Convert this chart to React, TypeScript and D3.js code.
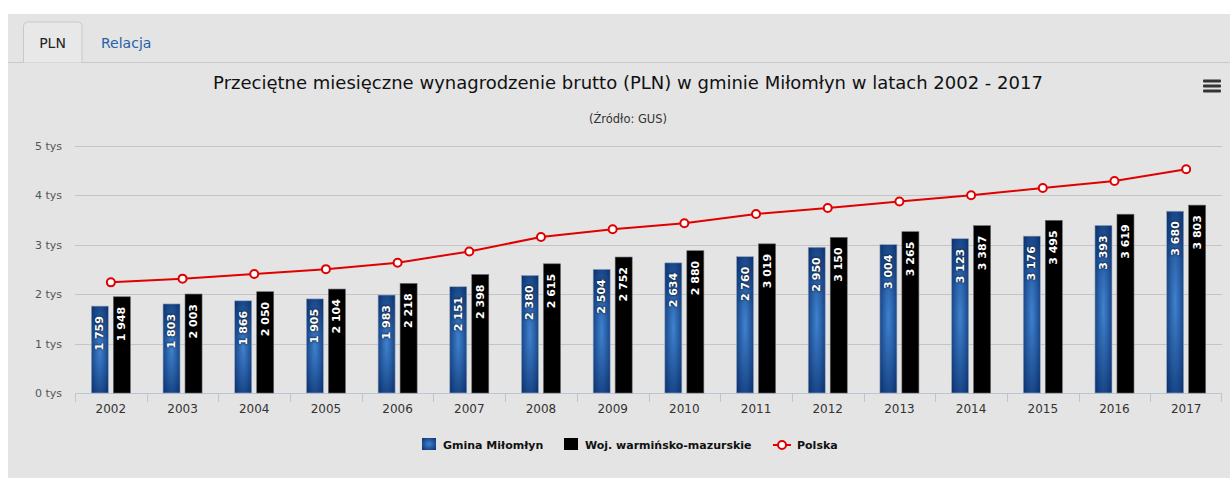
import React from "react";
import * as d3 from "d3";

const years = ["2002","2003","2004","2005","2006","2007","2008","2009","2010","2011","2012","2013","2014","2015","2016","2017"];
const gmina = [1759,1803,1866,1905,1983,2151,2380,2504,2634,2760,2950,3004,3123,3176,3393,3680];
const woj = [1948,2003,2050,2104,2218,2398,2615,2752,2880,3019,3150,3265,3387,3495,3619,3803];
const polska = [2240,2315,2410,2507,2637,2866,3158,3315,3435,3625,3744,3877,4004,4151,4291,4528];
const yTicks = [0,1000,2000,3000,4000,5000];
const seriesNames = ["Gmina Miłomłyn","Woj. warmińsko-mazurskie","Polska"];
const title = "Przeciętne miesięczne wynagrodzenie brutto (PLN) w gminie Miłomłyn w latach 2002 - 2017";
const subtitle = "(Źródło: GUS)";

const W = 1230, H = 478;
const FONT = "'DejaVu Sans', Verdana, sans-serif";

export default function App() {
  const x = d3.scaleBand().domain(years).range([75, 1222]);
  const y = d3.scaleLinear().domain([0, 5000]).range([393, 146]);
  const fmt = d3.formatLocale({ thousands: "\u00a0", grouping: [3], decimal: ",", currency: ["", ""] }).format(",d");
  const cx = (yr: string) => (x(yr) as number) + x.bandwidth() / 2;
  const line = d3.line<number>().x((_, i) => cx(years[i])).y((d) => y(d));
  const bw = 17;

  const label = (xc: number, top: number, v: number, key: string) => (
    <text key={key} transform={`translate(${xc},${top + 10}) rotate(-90)`} textAnchor="end" dominantBaseline="central"
      fontFamily={FONT} fontSize={11} fontWeight="bold" fill="#fff" style={{ textShadow: "0 0 3px #000" }}>
      {fmt(v)}
    </text>
  );

  return (
    <div style={{ position: "absolute", left: 0, top: 0, width: W, height: H }}>
      <svg width={W} height={H} style={{ display: "block" }}>
        <defs>
          <radialGradient id="blueGrad" cx="0.5" cy="0.5" r="0.7">
            <stop offset="0" stopColor="#3f82cf" />
            <stop offset="1" stopColor="#0a2f6c" />
          </radialGradient>
        </defs>
        <rect x={0} y={0} width={W} height={H} fill="#fff" />
        <rect x={8} y={14} width={W - 8} height={H - 14} fill="#e4e4e4" />
        {/* tabs */}
        <line x1={8} x2={W} y1={62.5} y2={62.5} stroke="#c9c9c9" />
        <path d="M23.5,62.5 V26 a4,4 0 0 1 4,-4 H78 a4,4 0 0 1 4,4 V62.5" fill="#e8e8e8" stroke="#c9c9c9" />
        <text x={52.5} y={48} textAnchor="middle" fontFamily={FONT} fontSize={14} fill="#222">PLN</text>
        <text x={101} y={48} fontFamily={FONT} fontSize={14} fill="#2461a8">Relacja</text>
        {/* title */}
        <text x={628} y={89} textAnchor="middle" fontFamily={FONT} fontSize={18} fill="#111">{title}</text>
        <text x={628} y={123} textAnchor="middle" fontFamily={FONT} fontSize={11.5} fill="#333">{subtitle}</text>
        {/* menu */}
        {[81, 86, 91].map((yy) => (
          <rect key={yy} x={1203} y={yy - 1.5} width={18} height={3} rx={1} fill="#333" />
        ))}
        {/* grid */}
        {yTicks.map((t) => (
          <g key={t}>
            {t > 0 && <line x1={75} x2={1222} y1={Math.round(y(t)) + 0.5} y2={Math.round(y(t)) + 0.5} stroke="#c4c4c4" />}
            <text x={62} y={y(t) + 4} textAnchor="end" fontFamily={FONT} fontSize={11} fill="#555">{`${t / 1000} tys`}</text>
          </g>
        ))}
        {/* x axis */}
        <line x1={75} x2={1222} y1={393.5} y2={393.5} stroke="#b9c6d6" />
        {years.map((yr) => (
          <line key={yr} x1={Math.round(x(yr) as number) + 0.5} x2={Math.round(x(yr) as number) + 0.5} y1={393} y2={402} stroke="#b9c6d6" />
        ))}
        <line x1={1221.5} x2={1221.5} y1={393} y2={402} stroke="#b9c6d6" />
        {years.map((yr) => (
          <text key={yr} x={cx(yr)} y={413} textAnchor="middle" fontFamily={FONT} fontSize={12} fill="#333">{yr}</text>
        ))}
        {/* bars */}
        {years.map((yr, i) => (
          <g key={yr}>
            <rect x={cx(yr) - 19.5} y={y(gmina[i])} width={bw} height={393 - y(gmina[i])} fill="url(#blueGrad)" stroke="#9aa8bb" strokeWidth={0.6} />
            <rect x={cx(yr) + 2.5} y={y(woj[i])} width={bw} height={393 - y(woj[i])} fill="#000" stroke="#666" strokeWidth={0.6} />
          </g>
        ))}
        {years.map((yr, i) => label(cx(yr) - 11, y(gmina[i]), gmina[i], "g" + yr))}
        {years.map((yr, i) => label(cx(yr) + 11, y(woj[i]), woj[i], "w" + yr))}
        {/* line */}
        <path d={line(polska) || ""} fill="none" stroke="#e00000" strokeWidth={2} />
        {polska.map((v, i) => (
          <circle key={i} cx={cx(years[i])} cy={y(v)} r={4} fill="#fff" stroke="#e00000" strokeWidth={2} />
        ))}
        {/* legend */}
        <rect x={422} y={438} width={14} height={12} fill="url(#blueGrad)" />
        <text x={443} y={449} fontFamily={FONT} fontSize={11} fontWeight="bold" fill="#111">{seriesNames[0]}</text>
        <rect x={564} y={438} width={14} height={12} fill="#000" />
        <text x={585} y={449} fontFamily={FONT} fontSize={11} fontWeight="bold" fill="#111">{seriesNames[1]}</text>
        <line x1={773} x2={791} y1={445} y2={445} stroke="#e00000" strokeWidth={2} />
        <circle cx={782} cy={445} r={4} fill="#fff" stroke="#e00000" strokeWidth={2} />
        <text x={797} y={449} fontFamily={FONT} fontSize={11} fontWeight="bold" fill="#111">{seriesNames[2]}</text>
      </svg>
    </div>
  );
}
